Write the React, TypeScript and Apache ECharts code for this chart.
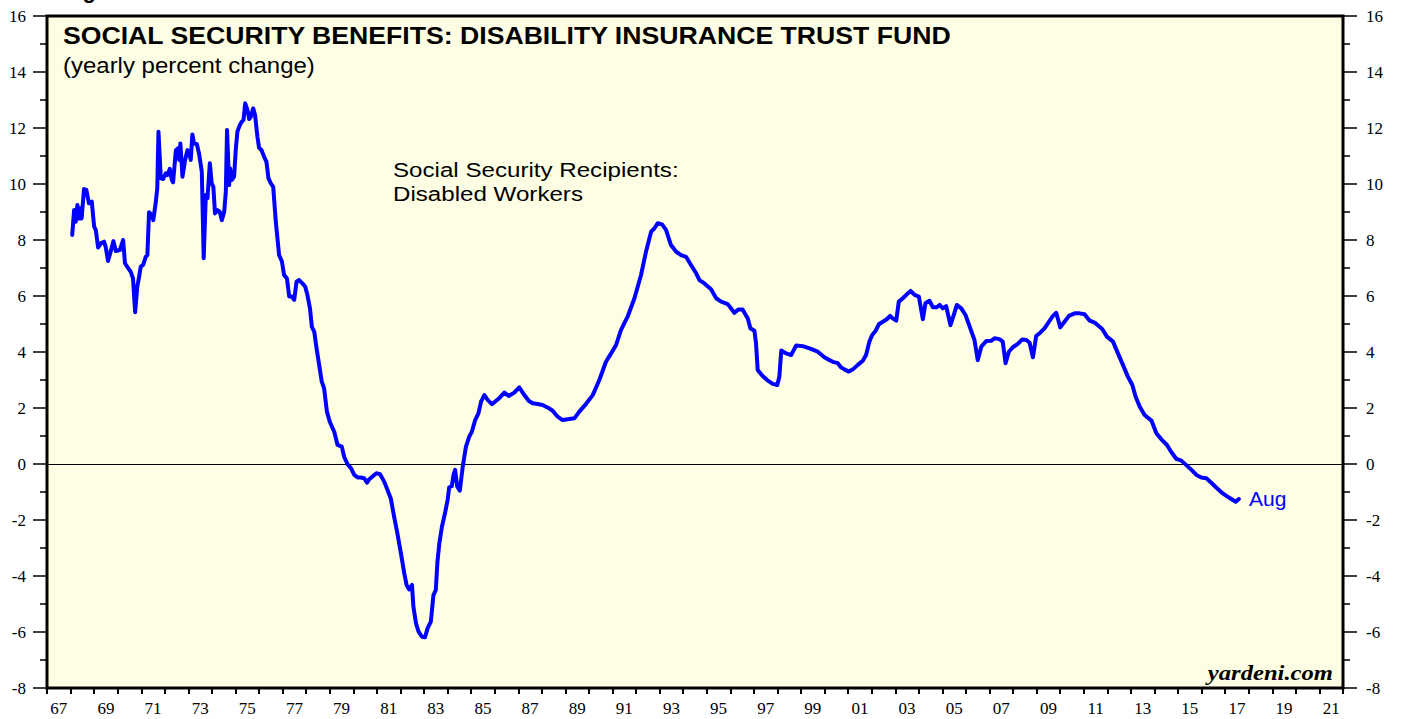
import React, { useEffect, useRef } from "react";
import * as echarts from "echarts";

// Decimal years (x) and yearly percent change (y)
const years: number[] = [
  1968.07, 1968.15, 1968.22, 1968.29, 1968.36, 1968.43, 1968.47, 1968.57, 1968.67, 1968.78, 1968.90,
  1969.00, 1969.07, 1969.17, 1969.28, 1969.42, 1969.49, 1969.59, 1969.70, 1969.82, 1969.92,
  1970.09, 1970.23, 1970.31, 1970.45, 1970.55, 1970.65, 1970.74, 1970.83, 1970.91, 1970.98,
  1971.08, 1971.19, 1971.26, 1971.33, 1971.45, 1971.51, 1971.62, 1971.68, 1971.73, 1971.83, 1971.93,
  1972.04, 1972.11, 1972.21, 1972.30, 1972.35, 1972.47, 1972.55, 1972.61, 1972.66, 1972.75, 1972.86, 1972.96,
  1973.03, 1973.10, 1973.17, 1973.24, 1973.36, 1973.45, 1973.57, 1973.65, 1973.74, 1973.81, 1973.91, 1973.99,
  1974.06, 1974.13, 1974.23, 1974.33, 1974.42, 1974.52, 1974.59, 1974.64, 1974.73, 1974.77, 1974.84, 1974.94,
  1975.01, 1975.08, 1975.18, 1975.27, 1975.34, 1975.41, 1975.51, 1975.58, 1975.65, 1975.75, 1975.83, 1975.93,
  1976.00, 1976.10, 1976.21, 1976.31, 1976.40, 1976.50, 1976.60, 1976.71, 1976.85, 1976.97,
  1977.06, 1977.18, 1977.28, 1977.39, 1977.49, 1977.59, 1977.70, 1977.84, 1977.96,
  1978.05, 1978.16, 1978.24, 1978.34, 1978.44, 1978.55, 1978.66, 1978.76, 1978.88,
  1979.00, 1979.19, 1979.33, 1979.51, 1979.61, 1979.75, 1979.90,
  1980.04, 1980.18, 1980.32, 1980.46, 1980.58, 1980.67, 1980.81, 1980.98,
  1981.13, 1981.31, 1981.45, 1981.59, 1981.73, 1981.87,
  1982.02, 1982.16, 1982.26, 1982.37, 1982.49, 1982.55, 1982.66, 1982.77, 1982.91,
  1983.04, 1983.15, 1983.29, 1983.40, 1983.50, 1983.57, 1983.65, 1983.76, 1983.89,
  1984.00, 1984.07, 1984.18, 1984.25, 1984.32, 1984.41, 1984.52, 1984.64, 1984.71, 1984.78, 1984.92,
  1985.03, 1985.17, 1985.31, 1985.42, 1985.56, 1985.70, 1985.88,
  1986.02, 1986.19, 1986.41, 1986.59, 1986.83,
  1987.04, 1987.21, 1987.44, 1987.61, 1987.82,
  1988.03, 1988.24, 1988.46, 1988.67, 1988.88,
  1989.17, 1989.38, 1989.59, 1989.87,
  1990.16, 1990.44, 1990.72, 1990.94,
  1991.15, 1991.36, 1991.64, 1991.93,
  1992.21, 1992.42, 1992.64, 1992.78, 1992.92,
  1993.10, 1993.27, 1993.48, 1993.70, 1993.91,
  1994.12, 1994.33, 1994.55, 1994.69, 1994.90,
  1995.18, 1995.40, 1995.61, 1995.89,
  1996.17, 1996.35, 1996.52, 1996.74, 1996.85,
  1997.02, 1997.09, 1997.16, 1997.37, 1997.59, 1997.80, 1997.99,
  1998.08, 1998.16, 1998.37, 1998.58, 1998.79,
  1999.07, 1999.36, 1999.71, 1999.99,
  2000.21, 2000.35, 2000.56, 2000.70, 2000.84,
  2001.03, 2001.20, 2001.41, 2001.62, 2001.76, 2001.90,
  2002.02, 2002.16, 2002.30, 2002.47, 2002.64, 2002.78, 2002.89,
  2003.04, 2003.15, 2003.32, 2003.49, 2003.65, 2003.82,
  2004.00, 2004.17, 2004.28, 2004.45, 2004.59, 2004.76, 2004.88,
  2005.02, 2005.16, 2005.34, 2005.48, 2005.61, 2005.80, 2005.98,
  2006.18, 2006.36, 2006.50, 2006.65, 2006.86,
  2007.07, 2007.21, 2007.42, 2007.56, 2007.68, 2007.82, 2007.99,
  2008.20, 2008.39, 2008.56, 2008.70, 2008.84, 2008.98,
  2009.15, 2009.34, 2009.52, 2009.69, 2009.83,
  2010.00, 2010.18, 2010.37, 2010.61, 2010.82,
  2011.03, 2011.25, 2011.46, 2011.79, 2011.98,
  2012.24, 2012.45, 2012.66, 2012.87,
  2013.06, 2013.20, 2013.37, 2013.58, 2013.87,
  2014.08, 2014.29, 2014.53, 2014.72, 2014.93,
  2015.14, 2015.35, 2015.57, 2015.78, 2015.99,
  2016.20, 2016.41, 2016.63, 2016.84,
  2017.05, 2017.26, 2017.45, 2017.58,
];

const values: number[] = [
  8.18, 9.07, 8.65, 9.25, 8.77, 9.13, 8.77, 9.82, 9.79, 9.31, 9.37,
  8.48, 8.36, 7.73, 7.88, 7.94, 7.76, 7.25, 7.58, 7.96, 7.61,
  7.64, 8.0, 7.17, 6.99, 6.87, 6.63, 5.42, 6.33, 6.69, 7.05,
  7.11, 7.40, 7.46, 8.99, 8.89, 8.71, 9.37, 9.85, 11.87, 10.2, 10.18,
  10.38, 10.32, 10.54, 10.14, 10.06, 11.21, 11.27, 10.86, 11.45, 10.26, 10.86, 11.21,
  11.15, 10.86, 11.77, 11.45, 11.42, 11.1, 10.44, 7.35, 9.61, 9.49, 10.74, 10.02,
  9.9, 8.95, 9.07, 9.01, 8.71, 9.01, 9.73, 11.93, 9.96, 10.56, 10.14, 10.26,
  11.21, 11.87, 12.1, 12.23, 12.29, 12.88, 12.64, 12.32, 12.4, 12.7, 12.46, 11.69,
  11.3, 11.21, 10.98, 10.8, 10.2, 10.02, 9.9, 8.65, 7.46, 7.23,
  6.75, 6.63, 5.98, 5.98, 5.86, 6.51, 6.57, 6.45, 6.33,
  6.04, 5.56, 4.9, 4.73, 4.13, 3.54, 2.94, 2.7, 1.87,
  1.51, 1.15, 0.68, 0.62, 0.26, 0.0, -0.15,
  -0.39, -0.48, -0.48, -0.51, -0.67, -0.55, -0.45, -0.33,
  -0.36, -0.63, -0.93, -1.23, -1.88, -2.48,
  -3.19, -3.9, -4.32, -4.48, -4.32, -5.1, -5.69, -5.99, -6.17,
  -6.19, -5.87, -5.63, -4.68, -4.5, -3.49, -2.83, -2.24, -1.76,
  -1.29, -0.83, -0.79, -0.39, -0.21, -0.81, -0.95, -0.12, 0.26, 0.62, 0.98,
  1.15, 1.57, 1.81, 2.23, 2.46, 2.29, 2.14,
  2.23, 2.35, 2.55, 2.43, 2.55,
  2.74, 2.52, 2.26, 2.17, 2.14,
  2.11, 2.02, 1.9, 1.69, 1.57,
  1.61, 1.63, 1.87, 2.14,
  2.46, 3.0, 3.65, 3.95,
  4.25, 4.79, 5.26, 5.92,
  6.75, 7.58, 8.3, 8.42, 8.6,
  8.56, 8.36, 7.82, 7.58, 7.46,
  7.4, 7.11, 6.81, 6.57, 6.45,
  6.24, 5.92, 5.8, 5.71,
  5.4, 5.52, 5.52, 5.2, 4.85,
  4.76, 4.31, 3.36, 3.14, 2.98, 2.86, 2.82,
  3.12, 4.05, 3.95, 3.89, 4.23,
  4.21, 4.13, 4.01, 3.81,
  3.71, 3.65, 3.6, 3.45, 3.38,
  3.3, 3.38, 3.54, 3.69, 3.89, 4.37,
  4.61, 4.75, 4.99, 5.08, 5.17, 5.29, 5.2,
  5.12, 5.8, 5.92, 6.06, 6.18, 6.04,
  5.98, 5.17, 5.74, 5.83, 5.6, 5.6, 5.68,
  5.56, 5.64, 4.96, 5.32, 5.68, 5.56, 5.32,
  4.85, 4.43, 3.71, 4.19, 4.39,
  4.4, 4.49, 4.46, 4.37, 3.6, 4.01, 4.17,
  4.29, 4.45, 4.43, 4.33, 3.81, 4.57,
  4.69, 4.85, 5.08, 5.29, 5.4,
  4.88, 5.08, 5.29, 5.38, 5.38,
  5.35, 5.12, 5.05, 4.81, 4.55,
  4.37, 3.95, 3.54, 3.12,
  2.82, 2.4, 2.05, 1.75, 1.55,
  1.1, 0.88, 0.68, 0.42, 0.18,
  0.12, -0.04, -0.21, -0.39, -0.48,
  -0.51, -0.67, -0.85, -1.01,
  -1.14, -1.25, -1.35, -1.25,
];

const yearCategories: string[] = Array.from({ length: 55 }, (_, i) => String(1967 + i));

const titleText = "SOCIAL SECURITY BENEFITS: DISABILITY INSURANCE TRUST FUND";
const subtitleText = "(yearly percent change)";
const seriesLabelLines = ["Social Security Recipients:", "Disabled Workers"];
const endLabel = "Aug";
const sourceText = "yardeni.com";
const figureText = "Figure 1.";

export default function App() {
  const ref = useRef<HTMLDivElement>(null);

  useEffect(() => {
    if (!ref.current) return;
    const chart = echarts.init(ref.current, undefined, { renderer: "svg" });
    const data = years.map((y, i) => [y, values[i]]);
    const serif = "Liberation Serif";
    const sans = "Liberation Sans";

    const yAxisCommon = {
      type: "value",
      min: -8,
      max: 16,
      interval: 2,
      axisLine: { show: false },
      splitLine: { show: false },
      axisTick: { show: true, inside: false, length: 14, lineStyle: { color: "#000", width: 1.5 } },
      minorTick: { show: true, splitNumber: 2, length: 7, lineStyle: { color: "#000", width: 1.5 } },
      axisLabel: { color: "#000", fontFamily: serif, fontSize: 17, margin: 21 },
    };

    const txt = (
      text: string,
      x: number,
      y: number,
      font: string,
      fill: string,
      scaleX: number,
      align: string = "left",
      lineHeight?: number
    ) => ({
      type: "text",
      x,
      y,
      scaleX,
      style: {
        text,
        x: 0,
        y: 0,
        font,
        fill,
        textAlign: align,
        textVerticalAlign: "top",
        ...(lineHeight ? { lineHeight } : {}),
      },
    });

    chart.setOption({
      animation: false,
      backgroundColor: "#fff",
      grid: {
        left: 47,
        right: 60,
        top: 16,
        bottom: 31,
        show: true,
        backgroundColor: "#FEFEE4",
        borderColor: "#000",
        borderWidth: 3,
        containLabel: false,
      },
      xAxis: [
        {
          type: "value",
          min: 1967,
          max: 2022,
          show: false,
        },
        {
          type: "category",
          data: yearCategories,
          position: "bottom",
          boundaryGap: true,
          axisLine: { show: false, onZero: false },
          splitLine: { show: false },
          axisTick: { show: true, interval: 0, length: 6, inside: false, lineStyle: { color: "#000", width: 2 } },
          axisLabel: {
            interval: 1,
            color: "#000",
            fontFamily: serif,
            fontSize: 17,
            margin: 12,
            formatter: (v: string) => v.slice(2),
          },
        },
      ],
      yAxis: [
        { ...yAxisCommon, position: "left" },
        { ...yAxisCommon, position: "right", axisLabel: { ...yAxisCommon.axisLabel, margin: 23 } },
      ],
      series: [
        {
          type: "line",
          xAxisIndex: 0,
          yAxisIndex: 0,
          data,
          showSymbol: false,
          symbol: "none",
          lineStyle: { color: "#0000FF", width: 4, cap: "round", join: "round" },
          markLine: {
            silent: true,
            symbol: ["none", "none"],
            label: { show: false },
            lineStyle: { color: "#000", width: 1.2, type: "solid" },
            data: [{ yAxis: 0 }],
            z: 1,
          },
          z: 3,
        },
      ],
      graphic: [
        txt(titleText, 63, 23.5, `bold 24px "${sans}"`, "#000", 1.11),
        txt(subtitleText, 63, 54, `22px "${sans}"`, "#000", 1.09),
        txt(seriesLabelLines.join("\n"), 393, 158, `21px "${sans}"`, "#000", 1.15, "left", 24),
        txt(endLabel, 1249, 488, `21px "${sans}"`, "#0000FF", 1.0),
        txt(sourceText, 1333, 661, `italic bold 22px "${serif}"`, "#000", 1.12, "right"),
        txt(figureText, 63, -21, `bold 22px "${sans}"`, "#000", 1.0),
      ],
    });

    return () => chart.dispose();
  }, []);

  return (
    <div
      ref={ref}
      style={{ position: "fixed", left: 0, top: 0, width: 1403, height: 719 }}
    />
  );
}
